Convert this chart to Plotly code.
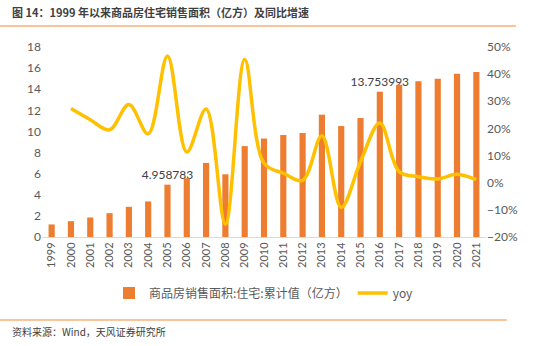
import plotly.graph_objects as go

years = [str(y) for y in range(1999, 2022)]
area = [1.19, 1.50, 1.85, 2.26, 2.86, 3.37, 4.958783, 5.56, 7.02, 5.94, 8.61, 9.33,
        9.66, 9.85, 11.59, 10.51, 11.27, 13.753993, 14.42, 14.76, 14.99, 15.46, 15.62]
yoy_years = years[1:]
yoy = [27.3, 23.2, 19.5, 28.8, 18.0, 46.7, 11.3, 27.2, -15.3, 45.4, 7.2, 3.5, 0.9,
       17.3, -9.1, 7.7, 22.0, 4.1, 2.2, 1.4, 3.1, 1.1]
labels = ["" for _ in years]
labels[years.index("2005")] = "4.958783"
labels[years.index("2016")] = "13.753993"

title = "图 14：1999 年以来商品房住宅销售面积（亿方）及同比增速"
source = "资料来源：Wind，天风证券研究所"
bar_name = "商品房销售面积:住宅:累计值（亿方）"
line_name = "yoy"

CJK = "Noto Sans CJK SC"
NUM = "Lato, Noto Sans CJK SC"

fig = go.Figure()
fig.add_trace(go.Bar(
    x=years, y=area, name=bar_name, marker=dict(color="#ED7D31", line=dict(width=0)),
    text=labels, textposition="outside", cliponaxis=False, constraintext="none",
    textfont=dict(family=NUM, size=12, color="#404040"),
))
fig.add_trace(go.Scatter(
    x=yoy_years, y=[v / 100 for v in yoy], name=line_name, yaxis="y2",
    mode="lines", line=dict(color="#FFC000", width=3.5, shape="spline", smoothing=1.0),
))

fig.update_layout(
    width=550, height=346,
    margin=dict(l=42, r=64, t=47, b=109),
    paper_bgcolor="white", plot_bgcolor="white",
    bargap=0.68,
    showlegend=True,
    legend=dict(orientation="h", x=0.5, xanchor="center", y=-0.295, yanchor="middle",
                font=dict(family=CJK, size=12, color="#595959"),
                itemwidth=30, tracegroupgap=0),
    xaxis=dict(type="category", tickangle=-90, showline=True, linecolor="#D9D9D9",
               linewidth=1, ticks="", showgrid=False,
               tickfont=dict(family=NUM, size=11, color="#595959")),
    yaxis=dict(range=[0, 18], dtick=2, showgrid=False, zeroline=False, ticks="",
               tickfont=dict(family=NUM, size=12, color="#595959")),
    yaxis2=dict(range=[-0.2, 0.5], dtick=0.1, tickformat=".0%", overlaying="y",
                side="right", showgrid=False, zeroline=False, ticks="",
                tickfont=dict(family=NUM, size=12, color="#595959")),
    annotations=[
        dict(text="<b>" + title + "</b>", xref="paper", yref="paper",
             x=-0.072, y=1.184, xanchor="left", yanchor="middle", showarrow=False,
             font=dict(family=CJK, size=11, color="#404040")),
        dict(text=source, xref="paper", yref="paper",
             x=-0.072, y=-0.495, xanchor="left", yanchor="middle", showarrow=False,
             font=dict(family=CJK, size=10, color="#404040")),
    ],
    shapes=[
        dict(type="line", xref="paper", yref="paper", x0=-0.0946, x1=1.0676,
             y0=1.1105, y1=1.1105, line=dict(color="#F9B27A", width=1.5)),
        dict(type="line", xref="paper", yref="paper", x0=-0.0946, x1=1.047,
             y0=-0.4368, y1=-0.4368, line=dict(color="#F9B27A", width=1.5)),
    ],
)

fig.write_html("out.html")
